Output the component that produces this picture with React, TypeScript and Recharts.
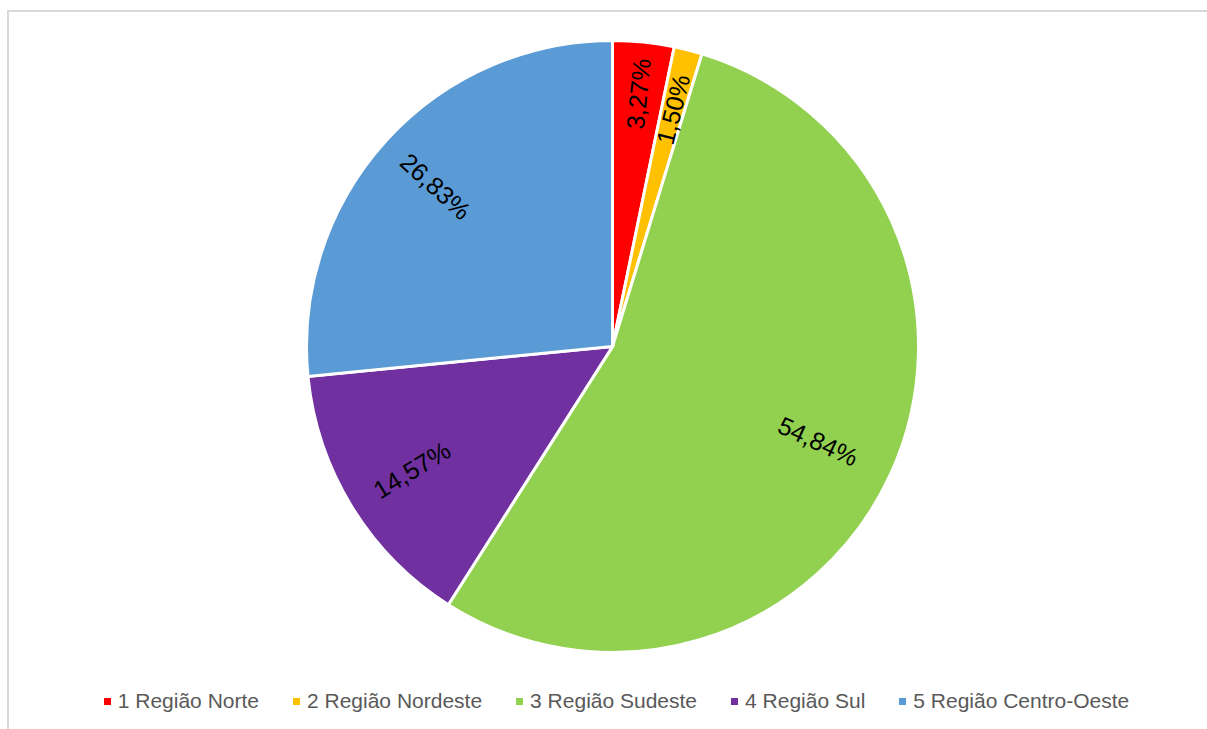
import React from 'react';
import { PieChart, Pie, Cell, Legend } from 'recharts';

const regions = ['1 Região Norte', '2 Região Nordeste', '3 Região Sudeste', '4 Região Sul', '5 Região Centro-Oeste'];
const shares = [3.27, 1.5, 54.84, 14.57, 26.83];
const colors = ['#FF0000', '#FFC000', '#92D050', '#7030A0', '#5B9BD5'];
const labelRadius = [0.83, 0.8, 0.74, 0.77, 0.78];

const data = regions.map((name, i) => ({ name, value: shares[i] }));

const FONT = '"Liberation Sans", Arial, sans-serif';
const RAD = Math.PI / 180;

const renderLabel = (props: any) => {
  const { cx, cy, midAngle, outerRadius, value, index } = props;
  const r = outerRadius * (labelRadius[index] ?? 0.78);
  const x = cx + r * Math.cos(-midAngle * RAD);
  const y = cy + r * Math.sin(-midAngle * RAD);
  let rot = -midAngle;
  while (rot > 90) rot -= 180;
  while (rot < -90) rot += 180;
  const txt = value.toFixed(2).replace('.', ',') + '%';
  return (
    <text
      x={x}
      y={y}
      fill="#000"
      fontSize={25}
      fontFamily={FONT}
      textAnchor="middle"
      dominantBaseline="central"
      transform={`rotate(${rot} ${x} ${y})`}
    >
      {txt}
    </text>
  );
};

const renderLegend = () => (
  <div
    style={{
      display: 'flex',
      justifyContent: 'center',
      alignItems: 'center',
      gap: 34,
      fontFamily: FONT,
      fontSize: 21,
      color: '#595959',
      lineHeight: '24px',
      whiteSpace: 'nowrap',
      paddingLeft: 15,
    }}
  >
    {regions.map((name, i) => (
      <div key={name} style={{ display: 'flex', alignItems: 'center' }}>
        <span style={{ display: 'inline-block', width: 7, height: 7, background: colors[i], marginRight: 7 }} />
        <span>{name}</span>
      </div>
    ))}
  </div>
);

export default function App() {
  return (
    <div
      style={{
        position: 'absolute',
        left: 7,
        top: 10,
        width: 1240,
        height: 760,
        border: '2px solid #d9d9d9',
        boxSizing: 'border-box',
        background: '#fff',
      }}
    >
      <PieChart
        width={1200}
        height={720}
        margin={{ top: 0, right: 0, bottom: 0, left: 0 }}
        style={{ position: 'absolute', left: 0, top: 0 }}
      >
        <Pie
          data={data}
          dataKey="value"
          nameKey="name"
          cx={603.5}
          cy={334.5}
          outerRadius={306}
          startAngle={90}
          endAngle={-270}
          stroke="#ffffff"
          strokeWidth={3}
          label={renderLabel}
          labelLine={false}
          isAnimationActive={false}
        >
          {data.map((d, i) => (
            <Cell key={d.name} fill={colors[i]} />
          ))}
        </Pie>
        <Legend
          content={renderLegend}
          wrapperStyle={{ position: 'absolute', left: 0, top: 677, width: 1200, bottom: 'auto' }}
        />
      </PieChart>
    </div>
  );
}
